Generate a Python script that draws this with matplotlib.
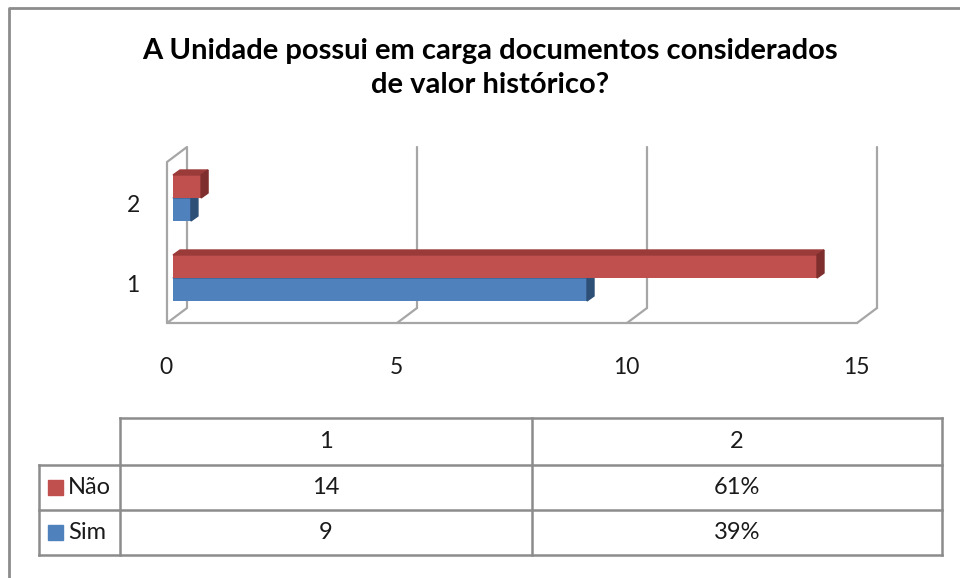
import matplotlib
matplotlib.use("Agg")
import matplotlib.pyplot as plt
from matplotlib.patches import Polygon, Rectangle

# ---- data ----
categories = [1, 2]
series_names = ["Não", "Sim"]
nao_values = [14, 0.61]
sim_values = [9, 0.39]
table_cols = ["1", "2"]
nao_labels = ["14", "61%"]
sim_labels = ["9", "39%"]
x_ticks = [0, 5, 10, 15]
title = "A Unidade possui em carga documentos considerados\nde valor histórico?"

RED = "#C0504D"; RED_TOP = "#9B3B39"; RED_SIDE = "#7E2F2D"
BLUE = "#4F81BD"; BLUE_TOP = "#3A6494"; BLUE_SIDE = "#2E5076"
GRID = "#A6A6A6"
FONT = "Lato"

W, H = 960, 578
fig = plt.figure(figsize=(W / 100, H / 100), dpi=100)

# main plot axes in pixel geometry: x 0..15 -> px 173..863, y 0.5..2.5 -> px 318..158
L, R, T, B = 173, 863, 158, 318
ax = fig.add_axes([L / W, (H - B) / H, (R - L) / W, (B - T) / H])
ax.set_xlim(0, 15)
ax.set_ylim(0.5, 2.5)
ax.axis("off")
sx = (R - L) / 15.0      # px per x unit
sy = (B - T) / 2.0       # px per y unit


def dx(p):
    return p / sx


def dy(p):
    return p / sy


# wall / floor geometry (pixel offsets relative to bar plane)
front_x = dx(-6)
back_x = dx(14)
front_floor = 1 + dy(278 - 323)
back_floor = 1 + dy(278 - 308)
wall_top = 1 + dy(278 - 147)
left_front_top = 1 + dy(278 - 162)

kw = dict(color=GRID, lw=1.6, solid_capstyle="round", clip_on=False)
# left side wall
ax.plot([front_x, front_x, back_x, back_x, front_x],
        [front_floor, left_front_top, wall_top, back_floor, front_floor], **kw)
# floor front edge
ax.plot([front_x, x_ticks[-1] + front_x], [front_floor, front_floor], **kw)
for v in x_ticks[1:]:
    ax.plot([v + back_x, v + back_x], [back_floor, wall_top], **kw)
    ax.plot([v + back_x, v + front_x], [back_floor, front_floor], **kw)

# bars
h = dy(23)
ox, oy = dx(7), dy(5)


def bar3d(y0, val, face, top, side, z):
    ax.barh(y0 + h / 2, val, height=h, left=0, color=face, zorder=z, clip_on=False)
    ax.add_patch(Polygon([(0, y0 + h), (val, y0 + h), (val + ox, y0 + h + oy),
                          (ox, y0 + h + oy)], closed=True, color=top, zorder=z,
                         clip_on=False))
    ax.add_patch(Polygon([(val, y0), (val, y0 + h), (val + ox, y0 + h + oy),
                          (val + ox, y0 + oy)], closed=True, color=side, zorder=z,
                         clip_on=False))


for c, n, s in zip(categories, nao_values, sim_values):
    bar3d(c - h, s, BLUE, BLUE_TOP, BLUE_SIDE, 3)
    bar3d(c, n, RED, RED_TOP, RED_SIDE, 4)

# category labels
for c in categories:
    ax.text(dx(133 - L), c - dy(7), str(c), ha="center", va="center",
            fontsize=16.5, family=FONT, color="#1a1a1a")
# value axis labels
for v in x_ticks:
    ax.text(v + front_x - dx(1), 1 + dy(278 - 367), str(v), ha="center", va="center",
            fontsize=16.5, family=FONT, color="#1a1a1a")

# ---- overlay in pixel coordinates: title, frame, data table ----
ov = fig.add_axes([0, 0, 1, 1], zorder=-1)
ov.set_xlim(0, W)
ov.set_ylim(H, 0)
ov.axis("off")

for line, yb in zip(title.split("\n"), [59, 93]):
    ov.text(490, yb, line, ha="center", va="baseline", fontsize=21,
            fontweight="bold", family=FONT, color="#000000")

fk = dict(color="#8C8C8C", lw=2.0, solid_capstyle="butt")
ov.plot([9, 9, W], [H, 8, 8], **fk)

tk = dict(color="#8C8C8C", lw=1.8, solid_capstyle="projecting")
x_lab, x_c1, x_c2, x_r = 39, 120, 532, 942
y_h, y_r1, y_r2, y_b = 418, 465, 510, 555
ov.plot([x_c1, x_r], [y_h, y_h], **tk)
for y in (y_r1, y_r2, y_b):
    ov.plot([x_lab, x_r], [y, y], **tk)
ov.plot([x_lab, x_lab], [y_r1, y_b], **tk)
for x in (x_c1, x_c2, x_r):
    ov.plot([x, x], [y_h, y_b], **tk)

tfs = 17
for i, col in enumerate(table_cols):
    xc = (x_c1 + x_c2) / 2 if i == 0 else (x_c2 + x_r) / 2
    ov.text(xc, (y_h + y_r1) / 2, col, ha="center", va="center", fontsize=tfs,
            family=FONT, color="#1a1a1a")
    ov.text(xc, (y_r1 + y_r2) / 2, nao_labels[i], ha="center", va="center",
            fontsize=tfs, family=FONT, color="#1a1a1a")
    ov.text(xc, (y_r2 + y_b) / 2, sim_labels[i], ha="center", va="center",
            fontsize=tfs, family=FONT, color="#1a1a1a")

for name, color, (ya, yb) in zip(series_names, [RED, BLUE],
                                 [(y_r1, y_r2), (y_r2, y_b)]):
    yc = (ya + yb) / 2
    ov.add_patch(Rectangle((48, yc - 7.5), 15, 15, color=color))
    ov.text(68, yc, name, ha="left", va="center", fontsize=tfs, family=FONT,
            color="#1a1a1a")

fig.savefig("out.png", dpi=100)
